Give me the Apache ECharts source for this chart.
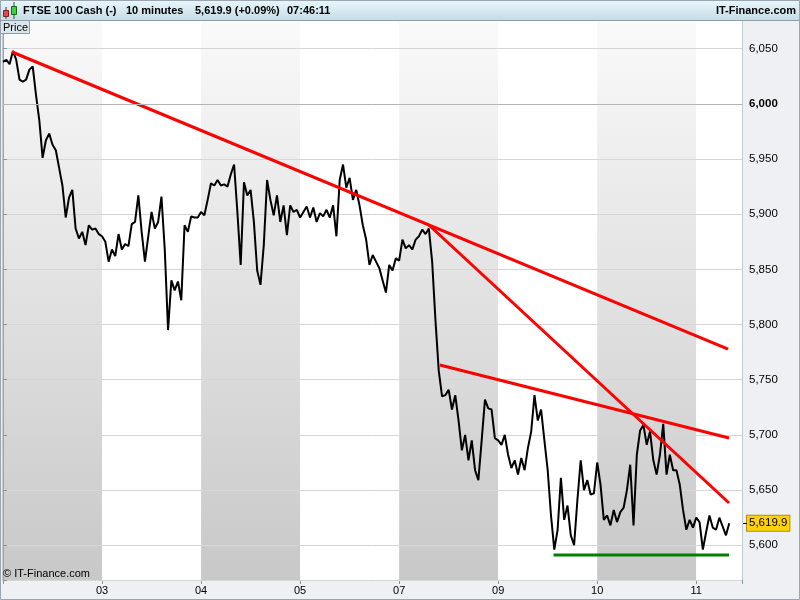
<!DOCTYPE html>
<html>
<head>
<meta charset="utf-8">
<title>FTSE 100 Cash - 10 minutes</title>
<script src="https://cdn.jsdelivr.net/npm/echarts@6/dist/echarts.min.js"></script>
<style>
html, body { margin: 0; padding: 0; background: #fff; }
#chart { width: 800px; height: 600px; }
</style>
</head>
<body>
<div id="chart"></div>
<script>
// labels of the day boundaries (the first day, 02, carries no label)
const dayLabels = ['02', '03', '04', '05', '07', '09', '10', '11'];
const pointsPerDay = 30;

// price, 30 points per day
const day02 = [6038, 6040, 6036, 6048, 6040, 6022, 6020, 6022, 6031, 6034, 6008, 5985, 5951, 5967, 5973,
  5963, 5958, 5942, 5926, 5897, 5915, 5922, 5887, 5878, 5884, 5872, 5890, 5886, 5887, 5882];
const day03 = [5880, 5875, 5857, 5868, 5862, 5882, 5868, 5873, 5871, 5891, 5893, 5917, 5884, 5857, 5880,
  5902, 5887, 5893, 5916, 5868, 5795, 5840, 5831, 5839, 5822, 5890, 5884, 5898, 5897, 5897];
const day04 = [5902, 5899, 5913, 5928, 5926, 5931, 5926, 5927, 5925, 5936, 5945, 5902, 5854, 5929, 5917,
  5922, 5893, 5849, 5836, 5872, 5931, 5913, 5899, 5917, 5893, 5908, 5881, 5908, 5902, 5904];
const day05 = [5897, 5902, 5907, 5897, 5906, 5893, 5901, 5898, 5904, 5897, 5908, 5880, 5931, 5945, 5924,
  5933, 5913, 5922, 5908, 5890, 5877, 5854, 5863, 5857, 5851, 5840, 5829, 5854, 5849, 5860];
const day07 = [5858, 5877, 5869, 5872, 5868, 5877, 5880, 5886, 5882, 5887, 5857, 5804, 5758, 5735, 5736,
  5741, 5723, 5736, 5713, 5686, 5700, 5677, 5695, 5668, 5659, 5695, 5732, 5724, 5723, 5697];
const day09 = [5695, 5691, 5700, 5682, 5670, 5677, 5664, 5679, 5668, 5688, 5703, 5736, 5713, 5723, 5695,
  5668, 5627, 5596, 5614, 5661, 5623, 5636, 5609, 5600, 5641, 5677, 5650, 5659, 5646, 5647];
const day10 = [5675, 5655, 5623, 5627, 5618, 5632, 5621, 5630, 5634, 5650, 5673, 5618, 5682, 5704, 5709,
  5691, 5703, 5677, 5664, 5682, 5710, 5664, 5682, 5668, 5668, 5655, 5632, 5614, 5623, 5616];
const day11 = [5625, 5621, 5596, 5612, 5627, 5616, 5614, 5625, 5617, 5609, 5619.9];
const lastPrice = 5619.9;

// drawn trend lines: [day position, price] at both ends
const lineA = [[0.091, 6047.0], [7.321, 5777.8]];
const lineB = [[4.300, 5890.2], [7.331, 5638.3]];
const lineC = [[4.411, 5763.3], [7.331, 5697.2]];
const support = [[5.559, 5591.2], [7.331, 5591.2]];

const chart = echarts.init(document.getElementById('chart'));

const days = [day02, day03, day04, day05, day07, day09, day10, day11];
const priceData = [];
days.forEach((arr, d) => {
  arr.forEach((v, j) => priceData.push([d + j / pointsPerDay, v]));
});

function fmt(v) {
  return String(v).replace(/\B(?=(\d{3})+(?!\d))/g, ',');
}

const band = new echarts.graphic.LinearGradient(0, 0, 0, 1, [
  { offset: 0, color: '#fafafa' },
  { offset: 1, color: '#c8c8c8' }
]);
const font = '"Liberation Sans", Arial, sans-serif';

function trend(data, color) {
  return {
    type: 'line',
    data: data,
    symbol: 'none',
    z: 4,
    lineStyle: { color: color, width: 3 },
    silent: true
  };
}

const option = {
  animation: false,
  backgroundColor: '#eef0f3',
  textStyle: { fontFamily: font },
  grid: {
    left: 1, right: 58, top: 20, bottom: 20,
    show: true, backgroundColor: '#ffffff', borderColor: '#9aa5ad', borderWidth: 1
  },
  xAxis: {
    type: 'value',
    min: 0,
    max: 7.462,
    interval: 1,
    z: 0,
    axisLine: { show: true, lineStyle: { color: '#9aa5ad' } },
    axisTick: { show: true, length: 4, lineStyle: { color: '#8a949b' } },
    axisLabel: {
      color: '#000', fontSize: 11, margin: 5,
      formatter: v => (Number.isInteger(v) && v > 0) ? dayLabels[v] : ''
    },
    splitLine: { show: false },
    splitArea: { show: true, areaStyle: { color: [band, '#ffffff'] } }
  },
  yAxis: {
    type: 'value',
    position: 'right',
    min: 5568.5,
    max: 6076,
    minInterval: 50,
    maxInterval: 50,
    splitNumber: 10,
    z: 1,
    axisLine: { show: true, lineStyle: { color: '#9aa5ad' } },
    axisTick: { show: true, length: 4, lineStyle: { color: '#8a949b' } },
    axisLabel: {
      color: '#000', fontSize: 11.5, margin: 7,
      formatter: v => {
        if (v % 50 !== 0) return '';
        return v === 6000 ? '{b|6,000}' : fmt(v);
      },
      rich: { b: { fontWeight: 'bold', fontSize: 11.5, color: '#000' } }
    },
    splitLine: { show: true, lineStyle: { color: '#d6d6d6', width: 1 } }
  },
  series: [
    {
      type: 'line',
      data: priceData,
      symbol: 'none',
      z: 3,
      lineStyle: { color: '#000000', width: 2 },
      markLine: {
        silent: true,
        symbol: 'none',
        animation: false,
        data: [
          { yAxis: 6000, lineStyle: { color: '#b4b4b4', width: 1, type: 'solid' }, label: { show: false } },
          {
            yAxis: lastPrice,
            lineStyle: { color: 'rgba(0,0,0,0)', width: 1 },
            label: {
              show: true, position: 'end', distance: 5,
              formatter: () => fmt(lastPrice),
              color: '#000', fontSize: 11.5,
              backgroundColor: '#fcd20c', borderColor: '#b49000', borderWidth: 1,
              padding: [2, 2, 1, 2]
            }
          }
        ]
      }
    },
    trend(lineA, '#ff0000'),
    trend(lineB, '#ff0000'),
    trend(lineC, '#ff0000'),
    trend(support, '#008000')
  ],
  graphic: [
    {
      type: 'rect', z: 100,
      shape: { x: 0, y: 0, width: 800, height: 20 },
      style: {
        fill: new echarts.graphic.LinearGradient(0, 0, 0, 1, [
          { offset: 0, color: '#e9f7fc' },
          { offset: 1, color: '#c6dce6' }
        ]),
        stroke: null
      }
    },
    {
      type: 'line', z: 101,
      shape: { x1: 0, y1: 20.5, x2: 800, y2: 20.5 },
      style: { stroke: '#8d9ea8', lineWidth: 1 }
    },
    // candle icon
    { type: 'line', z: 101, shape: { x1: 6, y1: 7, x2: 6, y2: 19 }, style: { stroke: '#802020', lineWidth: 1 } },
    { type: 'rect', z: 102, shape: { x: 3.5, y: 10.5, width: 5, height: 6 }, style: { fill: '#e84848', stroke: '#802020', lineWidth: 1 } },
    { type: 'line', z: 101, shape: { x1: 14, y1: 2, x2: 14, y2: 19 }, style: { stroke: '#206020', lineWidth: 1 } },
    { type: 'rect', z: 102, shape: { x: 11.5, y: 6.5, width: 5, height: 8 }, style: { fill: '#40d040', stroke: '#206020', lineWidth: 1 } },
    { type: 'text', z: 102, style: { text: 'FTSE 100 Cash (-)', x: 23, y: 11, verticalAlign: 'middle', font: 'bold 11px ' + font, fill: '#000' } },
    { type: 'text', z: 102, style: { text: '10 minutes', x: 126, y: 11, verticalAlign: 'middle', font: 'bold 11px ' + font, fill: '#000' } },
    { type: 'text', z: 102, style: { text: '5,619.9 (+0.09%)', x: 195, y: 11, verticalAlign: 'middle', font: 'bold 11px ' + font, fill: '#000' } },
    { type: 'text', z: 102, style: { text: '07:46:11', x: 287, y: 11, verticalAlign: 'middle', font: 'bold 11px ' + font, fill: '#000' } },
    { type: 'text', z: 102, style: { text: 'IT-Finance.com', x: 796, y: 11, align: 'right', verticalAlign: 'middle', font: 'bold 11px ' + font, fill: '#000' } },
    // "Price" tab
    {
      type: 'rect', z: 100,
      shape: { x: 0.5, y: 20.5, width: 29, height: 13 },
      style: { fill: '#dbe5ec', stroke: '#8d9ea8', lineWidth: 1 }
    },
    { type: 'text', z: 101, style: { text: 'Price', x: 3, y: 27.5, verticalAlign: 'middle', font: '11px ' + font, fill: '#000' } },
    { type: 'text', z: 101, style: { text: '\u00a9 IT-Finance.com', x: 3, y: 574, verticalAlign: 'middle', font: '11px ' + font, fill: '#000' } },
    // tick beside the last-price tag
    { type: 'line', z: 101, shape: { x1: 743, y1: 523.5, x2: 747, y2: 523.5 }, style: { stroke: '#000', lineWidth: 1 } },
    // window frame
    {
      type: 'rect', z: 100,
      shape: { x: 0.5, y: 0.5, width: 799, height: 599 },
      style: { fill: null, stroke: '#9aa5ad', lineWidth: 1 }
    }
  ]
};

chart.setOption(option);
</script>
</body>
</html>
